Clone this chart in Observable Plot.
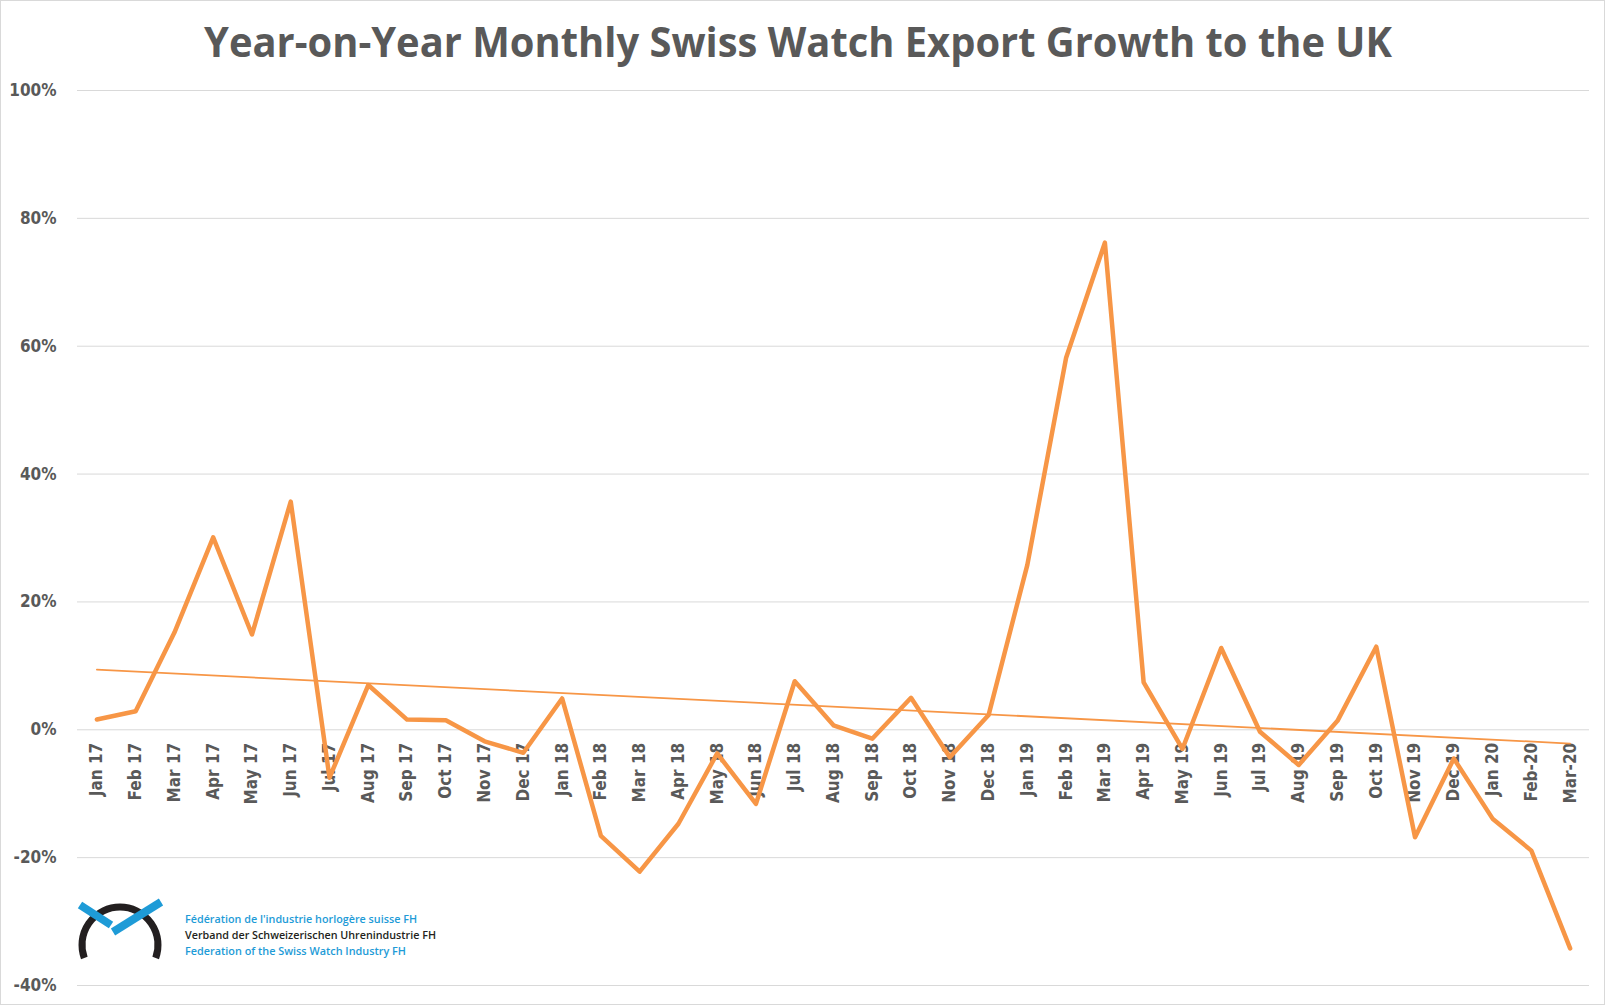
<!DOCTYPE html>
<html>
<head>
<meta charset="utf-8">
<script src="https://cdn.jsdelivr.net/npm/d3@7"></script>
<script src="https://cdn.jsdelivr.net/npm/@observablehq/plot@0.6"></script>
<style>
  html, body { margin: 0; padding: 0; background: #fff; }
  #page { position: relative; width: 1605px; height: 1005px; overflow: hidden; background: #fff; }
  #title { position: absolute; left: 0; top: 0; }
  #chart { position: absolute; left: 0; top: 70px; }
  #overlay { position: absolute; left: 0; top: 0; pointer-events: none; }
</style>
</head>
<body>
<div id="page">
  <svg id="title" width="1605" height="70">
    <text x="798" y="57" text-anchor="middle" font-family="Open Sans" font-weight="700" font-size="41" fill="#595959" textLength="1188" lengthAdjust="spacingAndGlyphs">Year-on-Year Monthly Swiss Watch Export Growth to the UK</text>
  </svg>
  <div id="chart"></div>
  <svg id="overlay" width="1605" height="1005">
    <rect x="0.5" y="0.5" width="1604" height="1004" fill="none" stroke="#d9d9d9" stroke-width="1"/>
    <path d="M 84.3 958 A 38 38 0 1 1 155.7 958" fill="none" stroke="#231f20" stroke-width="7"/>
    <line x1="80" y1="905" x2="111" y2="925" stroke="#1e9bd7" stroke-width="8"/>
    <line x1="113" y1="932" x2="161" y2="902" stroke="#1e9bd7" stroke-width="8"/>
    <g font-family="Open Sans" font-weight="600" font-size="11.5">
      <text x="185" y="923" fill="#1e9bd7" textLength="232" lengthAdjust="spacingAndGlyphs">Fédération de l'industrie horlogère suisse FH</text>
      <text x="185" y="939" fill="#231f20" textLength="251" lengthAdjust="spacingAndGlyphs">Verband der Schweizerischen Uhrenindustrie FH</text>
      <text x="185" y="955" fill="#1e9bd7" textLength="221" lengthAdjust="spacingAndGlyphs">Federation of the Swiss Watch Industry FH</text>
    </g>
  </svg>
</div>
<script>
const months = [
  "Jan 17","Feb 17","Mar 17","Apr 17","May 17","Jun 17","Jul 17","Aug 17","Sep 17","Oct 17","Nov 17","Dec 17",
  "Jan 18","Feb 18","Mar 18","Apr 18","May 18","Jun 18","Jul 18","Aug 18","Sep 18","Oct 18","Nov 18","Dec 18",
  "Jan 19","Feb 19","Mar 19","Apr 19","May 19","Jun 19","Jul 19","Aug 19","Sep 19","Oct 19","Nov 19","Dec 19",
  "Jan 20","Feb-20","Mar-20"
];
const growth = [
  0.016, 0.029, 0.152, 0.301, 0.149, 0.357, -0.075, 0.070, 0.016, 0.015, -0.018, -0.036,
  0.049, -0.166, -0.222, -0.147, -0.037, -0.116, 0.076, 0.007, -0.014, 0.050, -0.043, 0.023,
  0.258, 0.582, 0.762, 0.074, -0.030, 0.128, -0.003, -0.055, 0.014, 0.130, -0.168, -0.045,
  -0.139, -0.189, -0.342
];
const yTicks = [-0.4, -0.2, 0, 0.2, 0.4, 0.6, 0.8, 1.0];

const data = months.map((m, i) => ({i, m, v: growth[i]}));
const pct = d => `${Math.round(d * 100)}%`;
const lineColor = "#F79646";
const labelFont = {fontFamily: "'DejaVu Sans Condensed', 'DejaVu Sans'", fontSize: 17, fontWeight: "bold", fill: "#595959"};

const chart = Plot.plot({
  width: 1605,
  height: 935,
  marginTop: 20,
  marginBottom: 20,
  marginLeft: 77,
  marginRight: 16,
  style: {background: "transparent", overflow: "visible"},
  x: {type: "linear", domain: [-0.5, months.length - 0.5], axis: null},
  y: {domain: [-0.4, 1.0]},
  marks: [
    Plot.gridY(yTicks, {stroke: "#d9d9d9", strokeOpacity: 1, strokeWidth: 1}),
    Plot.axisY(yTicks, {tickSize: 0, tickPadding: 21, tickFormat: pct, label: null, ...labelFont}),
    Plot.text(data, {x: "i", y: () => 0, text: "m", rotate: -90, textAnchor: "end", dy: 13, ...labelFont}),
    Plot.linearRegressionY(data, {x: "i", y: "v", ci: 0, stroke: lineColor, strokeWidth: 1.8}),
    Plot.line(data, {x: "i", y: "v", stroke: lineColor, strokeWidth: 4.5, strokeLinejoin: "round", strokeLinecap: "round"})
  ]
});
document.getElementById("chart").appendChild(chart);
</script>
</body>
</html>
